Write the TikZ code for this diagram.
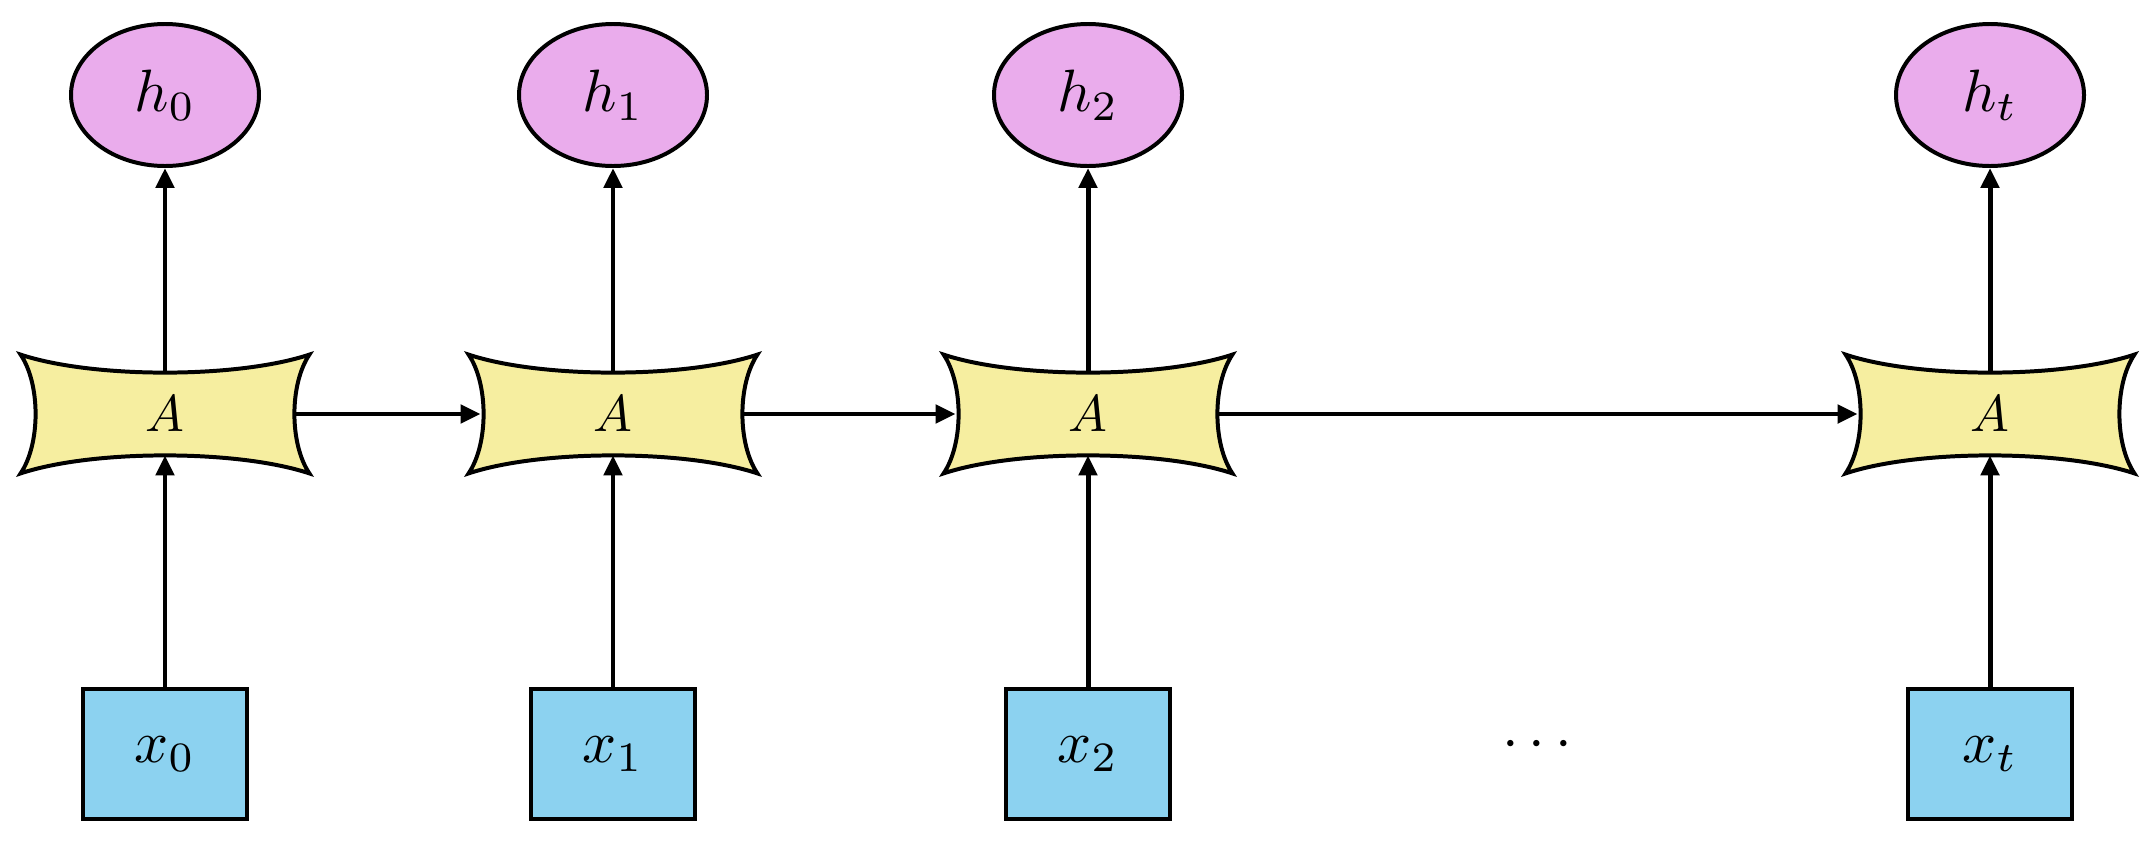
\documentclass[tikz,border=0pt]{standalone}
\usetikzlibrary{arrows.meta,calc,shapes.geometric}
\definecolor{hpink}{RGB}{234,172,236}
\definecolor{ayel}{RGB}{246,238,160}
\definecolor{xblue}{RGB}{140,210,240}
\tikzset{
  hn/.style={ellipse,draw=black,line width=2pt,fill=hpink,minimum width=94bp,minimum height=71bp,inner sep=0pt},
  xn/.style={rectangle,draw=black,line width=2pt,fill=xblue,minimum width=82bp,minimum height=65bp,inner sep=0pt},
  an/.style={rectangle,minimum width=144bp,minimum height=59bp,inner sep=0pt},
  ar/.style={line width=2.5pt,-{Triangle[length=10bp,width=9bp]}},
}
\newcommand{\bigtxt}[1]{\scalebox{3}{#1}}
\newcommand{\concavebox}[1]{%
  \filldraw[fill=ayel,draw=black,line width=2pt,line join=miter]
   (#1.north west) .. controls ($(#1.north west)!0.25!(#1.north east)+(0,-12bp)$) and ($(#1.north west)!0.75!(#1.north east)+(0,-12bp)$) .. (#1.north east)
   .. controls ($(#1.north east)!0.25!(#1.south east)+(-10bp,0)$) and ($(#1.north east)!0.75!(#1.south east)+(-10bp,0)$) .. (#1.south east)
   .. controls ($(#1.south east)!0.25!(#1.south west)+(0,12bp)$) and ($(#1.south east)!0.75!(#1.south west)+(0,12bp)$) .. (#1.south west)
   .. controls ($(#1.south west)!0.25!(#1.north west)+(10bp,0)$) and ($(#1.south west)!0.75!(#1.north west)+(10bp,0)$) .. (#1.north west) -- cycle;}
\begin{document}
\begin{tikzpicture}[x=0.5bp,y=-0.5bp]
\useasboundingbox (0,0) rectangle (2152,844);
\foreach \n/\xx/\s in {0/165/0,1/613/1,2/1088/2,t/1990/t}{
  \node[hn] (h\n) at (\xx,95) {\bigtxt{$h_{\s}$}};
  \node[xn] (x\n) at (\xx,754) {\bigtxt{$x_{\s}$}};
  \node[an] (a\n) at (\xx,414) {};
  \concavebox{a\n}
  \node (l\n) at (a\n) {\scalebox{2.6}{$A$}};
}
\foreach \n in {0,1,2,t}{
  \coordinate (ta\n) at ($(a\n.north)+(0,-9bp)$);
  \coordinate (ba\n) at ($(a\n.south)+(0,9bp)$);
  \draw[ar] (ta\n) -- (h\n);
  \draw[ar] (x\n) -- (ba\n);
}
\coordinate (e0) at ($(a0.east)+(-7bp,0)$); \coordinate (w1) at ($(a1.west)+(6bp,0)$);
\coordinate (e1) at ($(a1.east)+(-7bp,0)$); \coordinate (w2) at ($(a2.west)+(6bp,0)$);
\coordinate (e2) at ($(a2.east)+(-7bp,0)$); \coordinate (wt) at ($(at.west)+(6bp,0)$);
\draw[ar] (e0) -- (w1);
\draw[ar] (e1) -- (w2);
\draw[ar] (e2) -- (wt);
\node (dots) at (1537,745) {\bigtxt{$\cdots$}};
\end{tikzpicture}
\end{document}
